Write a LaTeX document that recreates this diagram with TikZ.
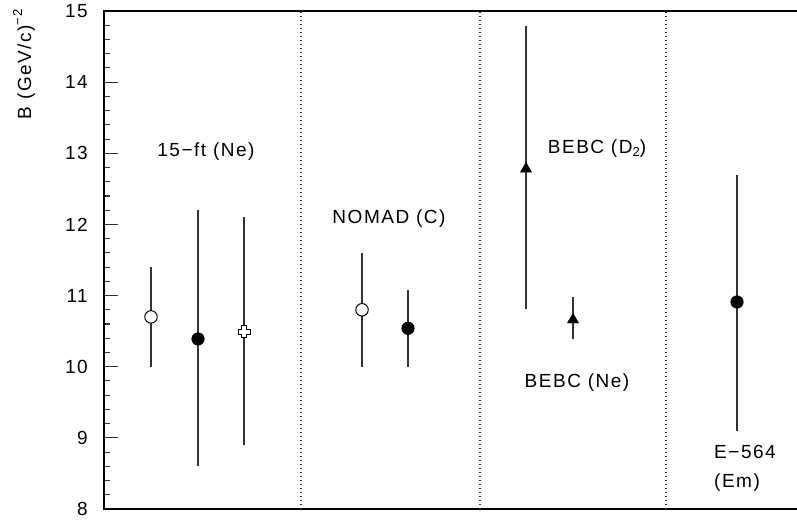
\documentclass[tikz,border=0pt]{standalone}
\usepackage{fontspec}
\setmainfont[LetterSpace=8]{Liberation Sans}
\usetikzlibrary{shapes.geometric}
\begin{document}
\begin{tikzpicture}[x=1pt,y=1pt,
  font=\fontsize{19}{21}\selectfont,
  axisline/.style={line width=1.3pt,black},
  tickline/.style={line width=1.1pt,black!80},
  sepline/.style={line width=1.2pt,black!80,dash pattern=on 1.3pt off 2.7pt},
  errbar/.style={line width=1.2pt,black!80},
  opencirc/.style={circle,draw=black,fill=white,line width=1pt,inner sep=0pt,minimum size=12.5pt},
  fullcirc/.style={circle,draw=black,fill=black,line width=0.6pt,inner sep=0pt,minimum size=12.5pt},
  trimark/.style={regular polygon,regular polygon sides=3,draw=black,fill=black,inner sep=0pt,minimum size=13pt},
  lbl/.style={inner sep=0pt},
  plusmark/.pic={\draw[draw=black,fill=white,line width=0.9pt] (-2.4pt,-6pt)--(2.4pt,-6pt)--(2.4pt,-2.4pt)--(6pt,-2.4pt)--(6pt,2.4pt)--(2.4pt,2.4pt)--(2.4pt,6pt)--(-2.4pt,6pt)--(-2.4pt,2.4pt)--(-6pt,2.4pt)--(-6pt,-2.4pt)--(-2.4pt,-2.4pt)--cycle;}
]
\useasboundingbox[fill=white] (0,0) rectangle (797,521);
\begin{scope}[y=71.143pt,yshift=-557.144pt]
  % ticks
  \foreach \i in {1,...,34} \draw[tickline] (104,8+0.2*\i) -- (110,8+0.2*\i);
  \foreach \v in {8,...,15} {
    \draw[tickline] (104,\v) -- (118,\v);
    \node[lbl,anchor=east] (t\v) at (88,\v) {\v};
  }
  % axes
  \draw[axisline] (797,15) -- (104,15) -- (104,8) -- (797,8);
  % separators
  \foreach \xx in {301,480,666} \draw[sepline] (\xx,8) -- (\xx,15);
  % y label
  \node[lbl,rotate=90] (ylab) at (24,14.25) {B (GeV/c)\raisebox{0.9ex}{\fontsize{13}{14}\selectfont −2}};
  % 15-ft (Ne)
  \coordinate (a1lo) at (151,10.0); \coordinate (a1hi) at (151,11.4);
  \draw[errbar] (a1lo) -- (a1hi);
  \node[opencirc] (a1) at (151,10.7) {};
  \coordinate (a2lo) at (198,8.6); \coordinate (a2hi) at (198,12.2);
  \draw[errbar] (a2lo) -- (a2hi);
  \node[fullcirc] (a2) at (198,10.39) {};
  \coordinate (a3lo) at (244,8.9); \coordinate (a3hi) at (244,12.1);
  \draw[errbar] (a3lo) -- (a3hi);
  \pic (a3) at (244,10.49) {plusmark};
  \node[lbl] (la) at (206,13.03) {15−ft (Ne)};
  % NOMAD
  \coordinate (b1lo) at (362,10.0); \coordinate (b1hi) at (362,11.6);
  \draw[errbar] (b1lo) -- (b1hi);
  \node[opencirc] (b1) at (362,10.8) {};
  \coordinate (b2lo) at (408,10.0); \coordinate (b2hi) at (408,11.08);
  \draw[errbar] (b2lo) -- (b2hi);
  \node[fullcirc] (b2) at (408,10.54) {};
  \node[lbl] (lb) at (389,12.08) {NOMAD (C)};
  % BEBC
  \coordinate (c1lo) at (526,10.81); \coordinate (c1hi) at (526,14.79);
  \draw[errbar] (c1lo) -- (c1hi);
  \node[trimark] (c1) at (526,12.78) {};
  \coordinate (c2lo) at (573,10.39); \coordinate (c2hi) at (573,10.98);
  \draw[errbar] (c2lo) -- (c2hi);
  \node[trimark] (c2) at (573,10.66) {};
  \node[lbl] (lc1) at (597,13.07) {BEBC (D\raisebox{-0.35ex}{\fontsize{13}{14}\selectfont 2})};
  \node[lbl] (lc2) at (577,9.77) {BEBC (Ne)};
  % E-564
  \coordinate (d1lo) at (737,9.1); \coordinate (d1hi) at (737,12.69);
  \draw[errbar] (d1lo) -- (d1hi);
  \node[fullcirc] (d1) at (737,10.91) {};
  \node[lbl,anchor=west] (ld1) at (714,8.80) {E−564};
  \node[lbl,anchor=west] (ld2) at (714,8.37) {(Em)};
\end{scope}
\end{tikzpicture}
\end{document}
